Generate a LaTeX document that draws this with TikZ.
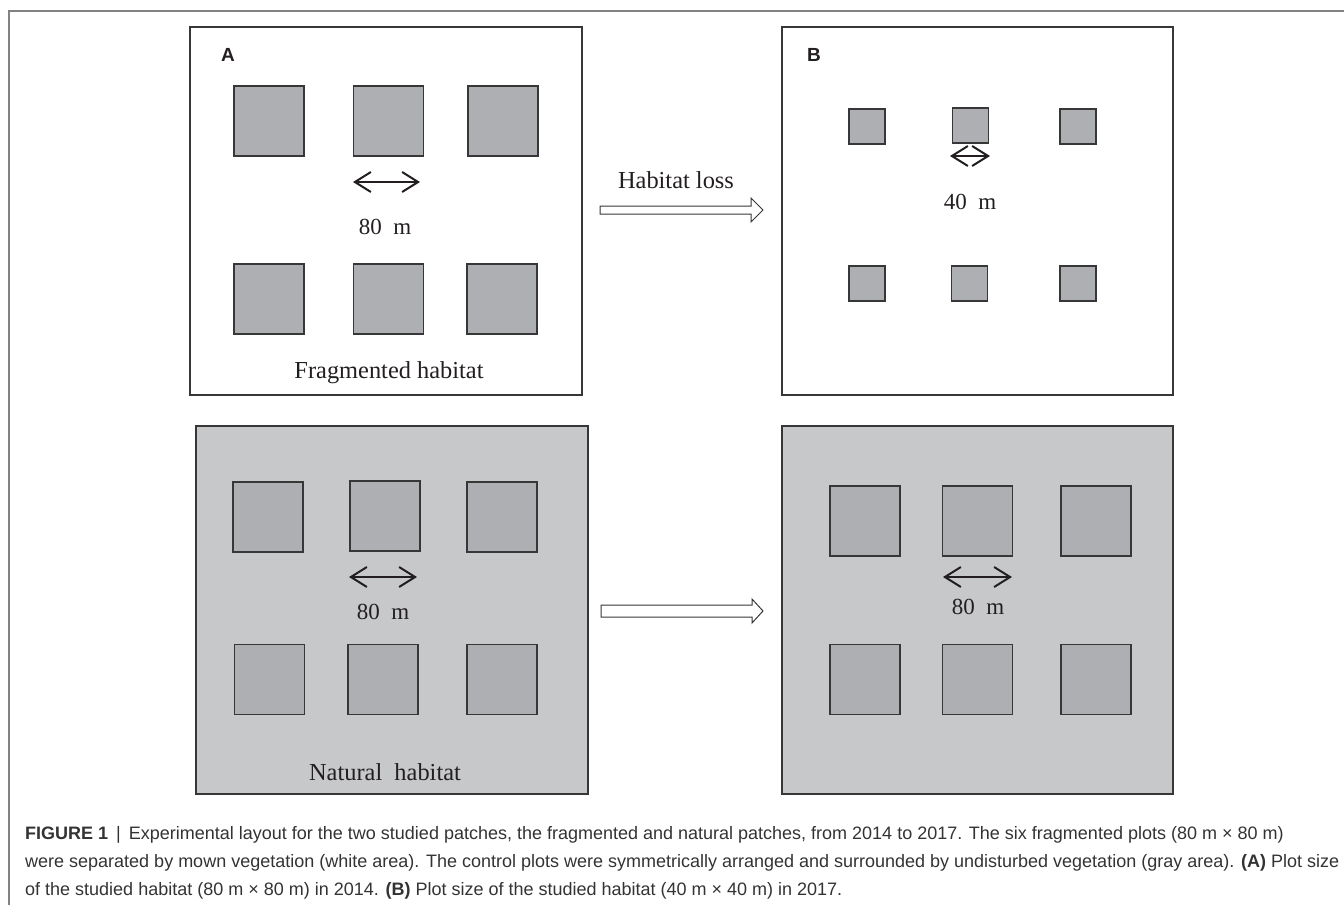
\documentclass[tikz,border=0pt]{standalone}
\usepackage{fontspec}
\setmainfont{Liberation Serif}
\newfontfamily\capfont{Liberation Sans}
\usetikzlibrary{arrows.meta}
\definecolor{plotgray}{RGB}{174,175,178}
\definecolor{fieldgray}{RGB}{199,200,202}
\definecolor{edgegray}{RGB}{55,55,55}
\definecolor{framegray}{RGB}{130,130,130}
\definecolor{inkblack}{RGB}{35,31,32}
\tikzset{
  panel/.style={draw=edgegray, line width=1.4pt},
  bigplot/.style={draw=edgegray, line width=1.2pt, fill=plotgray, minimum width=70pt, minimum height=70pt, inner sep=0pt, outer sep=0pt},
  smallplot/.style={draw=edgegray, line width=1.2pt, fill=plotgray, minimum width=36pt, minimum height=35pt, inner sep=0pt, outer sep=0pt},
  dist/.style={inkblack, line width=2pt, {Straight Barb[length=16pt,width=20pt,line width=2pt]}-{Straight Barb[length=16pt,width=20pt,line width=2pt]}},
  lbl/.style={font=\fontsize{23}{26}\selectfont, text=inkblack, inner sep=0pt},
  hablbl/.style={font=\fontsize{24.4}{28}\selectfont, text=inkblack, inner sep=0pt},
  letter/.style={font=\capfont\bfseries\fontsize{19}{22}\selectfont, text=inkblack, inner sep=0pt},
  blockarrow/.style={draw=edgegray, line width=1pt, fill=white},
  capline/.style={font=\capfont\fontsize{18}{21}\selectfont, text=black!80, anchor=base west, inner sep=0pt}
}
\begin{document}
\begin{tikzpicture}[x=1pt,y=-1pt]
\useasboundingbox (0,0) rectangle (1344,905);
% outer frame
\draw[framegray, line width=1.3pt] (9,905) -- (9,11) -- (1344,11);

% panels
\draw[panel, fill=white] (190,27) rectangle (582,395);
\draw[panel, fill=white] (782,27) rectangle (1173,395);
\draw[panel, fill=fieldgray] (196,426) rectangle (588,794);
\draw[panel, fill=fieldgray] (782,426) rectangle (1173,794);

% panel A
\node[letter] (labA) at (228,55) {A};
\node[bigplot] (a1) at (269,121) {};
\node[bigplot] (a2) at (388.5,121) {};
\node[bigplot] (a3) at (503,121) {};
\node[bigplot] (a4) at (269,299) {};
\node[bigplot] (a5) at (388.5,299) {};
\node[bigplot] (a6) at (502,299) {};
\coordinate (aL) at (353,182);
\coordinate (aR) at (420,182);
\draw[dist] (aL) -- (aR);
\node[lbl] (adist) at (385,227) {80\ \ m};
\node[hablbl] (afrag) at (389,373) {Fragmented habitat};

% panel B
\node[letter] (labB) at (814,55) {B};
\node[smallplot] (b1) at (867,126.5) {};
\node[smallplot] (b2) at (970.5,125.5) {};
\node[smallplot] (b3) at (1078,126.5) {};
\node[smallplot] (b4) at (867,283.5) {};
\node[smallplot] (b5) at (969.5,283.5) {};
\node[smallplot] (b6) at (1078,283.5) {};
\coordinate (bL) at (950,156);
\coordinate (bR) at (990,156);
\draw[dist] (bL) -- (bR);
\node[lbl] (bdist) at (970,202) {40\ \ m};

% panel C
\node[bigplot] (c1) at (268,517) {};
\node[bigplot] (c2) at (385,516) {};
\node[bigplot] (c3) at (502,517) {};
\node[bigplot] (c4) at (269.5,679.5) {};
\node[bigplot] (c5) at (383,679.5) {};
\node[bigplot] (c6) at (502,679.5) {};
\coordinate (cL) at (349,577);
\coordinate (cR) at (417,577);
\draw[dist] (cL) -- (cR);
\node[lbl] (cdist) at (383,612) {80\ \ m};
\node[hablbl] (cnat) at (385,772) {Natural\ \ habitat};

% panel D
\node[bigplot] (d1) at (865,521) {};
\node[bigplot] (d2) at (977.5,521) {};
\node[bigplot] (d3) at (1096,521) {};
\node[bigplot] (d4) at (865,679.5) {};
\node[bigplot] (d5) at (977.5,679.5) {};
\node[bigplot] (d6) at (1096,679.5) {};
\coordinate (dL) at (943,577);
\coordinate (dR) at (1012,577);
\draw[dist] (dL) -- (dR);
\node[lbl] (ddist) at (978,607) {80\ \ m};

% block arrows
\node[hablbl] (loss) at (676,180) {Habitat loss};
\draw[blockarrow] (600,206) -- (751,206) -- (751,198) -- (763,210) -- (751,222) -- (751,214) -- (600,214) -- cycle;
\draw[blockarrow] (601,605) -- (752,605) -- (752,599) -- (763,611) -- (752,623) -- (752,617) -- (601,617) -- cycle;

% caption
\node[capline] (cap1) at (25,839) {\textbf{FIGURE 1} \,|\, Experimental layout for the two studied patches, the fragmented and natural patches, from 2014 to 2017. The six fragmented plots (80 m × 80 m)};
\node[capline] (cap2) at (25,867) {were separated by mown vegetation (white area). The control plots were symmetrically arranged and surrounded by undisturbed vegetation (gray area). \textbf{(A)} Plot size};
\node[capline] (cap3) at (25,895) {of the studied habitat (80 m × 80 m) in 2014. \textbf{(B)} Plot size of the studied habitat (40 m × 40 m) in 2017.};
\end{tikzpicture}
\end{document}
